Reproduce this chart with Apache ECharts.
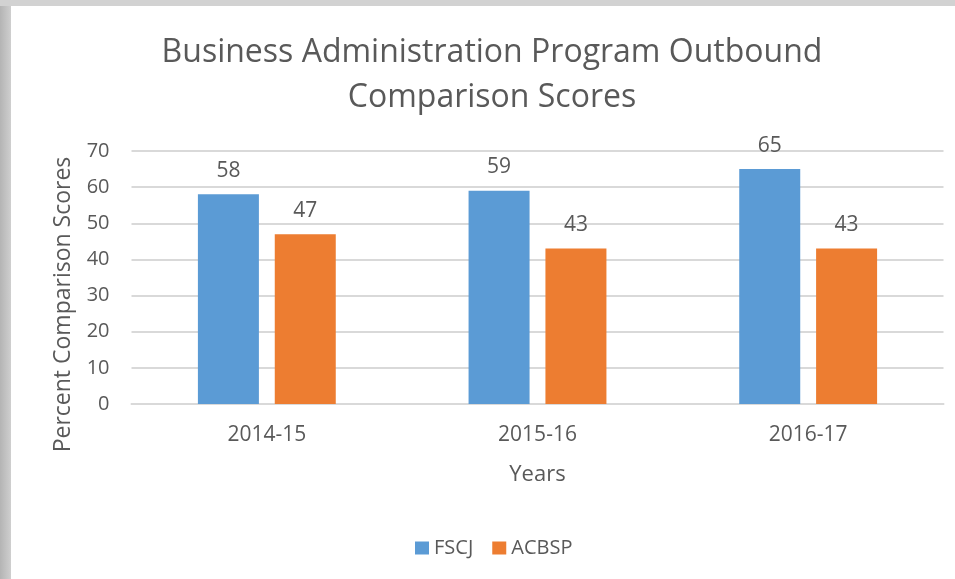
<!DOCTYPE html>
<html>
<head>
<meta charset="utf-8">
<script src="https://cdn.jsdelivr.net/npm/echarts@6/dist/echarts.min.js"></script>
<style>
  html, body { margin: 0; padding: 0; }
  body { width: 955px; height: 579px; background: linear-gradient(to right, #b4b4b4, #cfcfcf 11px); position: relative; overflow: hidden; }
  #top { position: absolute; left: 0; top: 0; width: 955px; height: 6px; background: #d2d2d2; }
  #panel { position: absolute; left: 11px; top: 6px; width: 944px; height: 573px; background: #fff; }
  #chart { position: absolute; left: 0; top: 0; width: 955px; height: 579px; }
</style>
</head>
<body>
<div id="top"></div>
<div id="panel"></div>
<div id="chart"></div>
<script>
const years = ['2014-15', '2015-16', '2016-17']
const fscj = [58, 59, 65]
const acbsp = [47, 43, 43]
const yTicks = [0, 10, 20, 30, 40, 50, 60, 70]

const textColor = '#595959'
const font = '"Open Sans", "Noto Sans", sans-serif'

function main() {
  var chart = echarts.init(document.getElementById('chart'))

  let label = {
    show: true,
    position: 'top',
    distance: 13,
    color: textColor,
    fontSize: 21,
    fontFamily: font
  }

  let option = {
    animation: false,
    textStyle: { fontFamily: font },
    title: {
      text: 'Business Administration Program Outbound\nComparison Scores',
      left: 487,
      textAlign: 'center',
      top: 25,
      textStyle: {
        color: textColor,
        fontSize: 32,
        fontWeight: 'normal',
        lineHeight: 45,
        fontFamily: font
      }
    },
    legend: {
      data: ['FSCJ', 'ACBSP'],
      left: 410,
      top: 533,
      itemWidth: 14,
      itemHeight: 13,
      itemGap: 19,
      icon: 'rect',
      textStyle: { color: textColor, fontSize: 20, fontFamily: font }
    },
    grid: {
      left: 131.5,
      right: 11.5,
      top: 151,
      bottom: 175,
      containLabel: false
    },
    xAxis: {
      type: 'category',
      data: years,
      name: 'Years',
      nameLocation: 'middle',
      nameGap: 60,
      nameTextStyle: { color: textColor, fontSize: 22, fontFamily: font },
      axisTick: { show: false },
      axisLine: { lineStyle: { color: '#d9d9d9', width: 2 } },
      axisLabel: { color: textColor, fontSize: 21, margin: 21, fontFamily: font }
    },
    yAxis: {
      type: 'value',
      min: yTicks[0],
      max: yTicks[yTicks.length - 1],
      interval: 10,
      name: 'Percent Comparison Scores',
      nameLocation: 'middle',
      nameGap: 57,
      nameTextStyle: { color: textColor, fontSize: 23, fontFamily: font, padding: [0, 54, 0, 0] },
      axisLine: { show: false },
      axisTick: { show: false },
      axisLabel: { color: textColor, fontSize: 20, margin: 22, fontFamily: font },
      splitLine: { lineStyle: { color: '#d9d9d9', width: 2 } }
    },
    series: [
      {
        name: 'FSCJ',
        type: 'bar',
        data: fscj,
        barWidth: 61,
        barGap: '26%',
        itemStyle: { color: '#5b9bd5' },
        label: label
      },
      {
        name: 'ACBSP',
        type: 'bar',
        data: acbsp,
        barWidth: 61,
        itemStyle: { color: '#ed7d31' },
        label: label
      }
    ]
  }
  chart.setOption(option)
}

main()
</script>
</body>
</html>
